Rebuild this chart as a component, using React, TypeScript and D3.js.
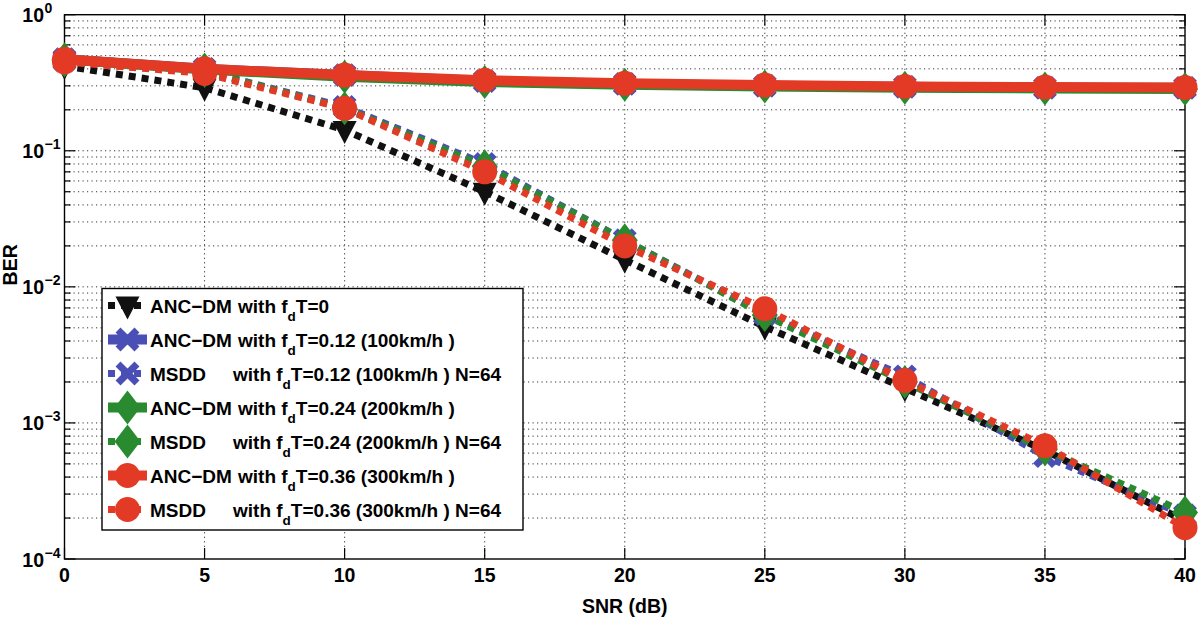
import React from "react";
import * as d3 from "d3";

const snr = [0, 5, 10, 15, 20, 25, 30, 35, 40];
const ancdm0 = [0.42, 0.29, 0.142, 0.05, 0.0158, 0.0051, 0.0018, 0.00063, 0.00019];
const ancdm012 = [0.47, 0.4, 0.36, 0.325, 0.31, 0.3, 0.295, 0.29, 0.29];
const msdd012 = [0.46, 0.385, 0.21, 0.08, 0.022, 0.0063, 0.0022, 0.00057, 0.00021];
const ancdm024 = [0.47, 0.395, 0.35, 0.32, 0.305, 0.297, 0.29, 0.287, 0.285];
const msdd024 = [0.46, 0.385, 0.205, 0.077, 0.022, 0.0062, 0.002, 0.00064, 0.00022];
const ancdm036 = [0.47, 0.4, 0.36, 0.33, 0.313, 0.304, 0.297, 0.294, 0.292];
const msdd036 = [0.45, 0.37, 0.205, 0.07, 0.02, 0.0069, 0.00205, 0.00068, 0.00017];

const xTicks = [0, 5, 10, 15, 20, 25, 30, 35, 40];
const yDecades = [0, -1, -2, -3, -4];

type Marker = "tri" | "x" | "diamond" | "circle";
interface Series {
  name: string;
  label: string;
  values: number[];
  color: string;
  dotted: boolean;
  marker: Marker;
}

const seriesList: Series[] = [
  { name: "ANC\u2212DM", label: "0", values: ancdm0, color: "#111111", dotted: true, marker: "tri" },
  { name: "ANC\u2212DM", label: "0.12 (100km/h )", values: ancdm012, color: "#4a4fb5", dotted: false, marker: "x" },
  { name: "MSDD", label: "0.12 (100km/h ) N=64", values: msdd012, color: "#4a4fb5", dotted: true, marker: "x" },
  { name: "ANC\u2212DM", label: "0.24 (200km/h )", values: ancdm024, color: "#2a8a2f", dotted: false, marker: "diamond" },
  { name: "MSDD", label: "0.24 (200km/h ) N=64", values: msdd024, color: "#2a8a2f", dotted: true, marker: "diamond" },
  { name: "ANC\u2212DM", label: "0.36 (300km/h )", values: ancdm036, color: "#e33a26", dotted: false, marker: "circle" },
  { name: "MSDD", label: "0.36 (300km/h ) N=64", values: msdd036, color: "#e33a26", dotted: true, marker: "circle" },
];

const W = 1200;
const H = 619;
const L = 64.5;
const R = 1185;
const T = 14.7;
const B = 559;

const FONT = "'Liberation Sans', Arial, Helvetica, sans-serif";

function MarkerShape({ type, color, cx, cy }: { type: Marker; color: string; cx: number; cy: number }) {
  if (type === "circle") return <circle cx={cx} cy={cy} r={12.5} fill={color} />;
  if (type === "diamond")
    return <path d={`M${cx},${cy - 17}L${cx + 13},${cy}L${cx},${cy + 17}L${cx - 13},${cy}Z`} fill={color} />;
  if (type === "tri")
    return <path d={`M${cx - 12},${cy - 9}L${cx + 12},${cy - 9}L${cx},${cy + 14}Z`} fill={color} />;
  return (
    <path
      d={`M${cx - 7},${cy - 7}L${cx + 7},${cy + 7}M${cx - 7},${cy + 7}L${cx + 7},${cy - 7}`}
      stroke={color}
      strokeWidth={7}
      fill="none"
      strokeLinecap="square"
    />
  );
}

export default function App() {
  const x = d3.scaleLinear().domain([0, 40]).range([L, R]);
  const y = d3.scaleLog().domain([1e-4, 1]).range([B, T]);
  const line = d3
    .line<number>()
    .x((_, i) => x(snr[i]))
    .y((v) => y(v));

  const minor: number[] = [];
  for (let e = -4; e < 0; e++) for (let k = 2; k <= 9; k++) minor.push(k * Math.pow(10, e));
  const majors = yDecades.map((e) => Math.pow(10, e));

  const grid = { stroke: "#333", strokeWidth: 1, strokeDasharray: "1.2 3.3" };

  const legX = 102;
  const legY = 288.5;
  const legW = 421;
  const legH = 241.5;
  const rowY = (i: number) => 305.5 + i * 34;

  return (
    <svg width={W} height={H} style={{ position: "absolute", left: 0, top: 0, background: "#fff" }} fontFamily={FONT}>
      <rect x={0} y={0} width={W} height={H} fill="#fff" />
      <g>
        {xTicks.slice(1, -1).map((t) => (
          <line key={"gx" + t} x1={x(t)} x2={x(t)} y1={T} y2={B} {...grid} />
        ))}
        {[...minor, ...majors.slice(1, -1)].map((v, i) => (
          <line key={"gy" + i} x1={L} x2={R} y1={y(v)} y2={y(v)} {...grid} />
        ))}
      </g>
      <g stroke="#000" strokeWidth={1.2}>
        {xTicks.map((t) => (
          <g key={"tx" + t}>
            <line x1={x(t)} x2={x(t)} y1={B} y2={B - 11} />
            <line x1={x(t)} x2={x(t)} y1={T} y2={T + 11} />
          </g>
        ))}
        {majors.map((v, i) => (
          <g key={"ty" + i}>
            <line x1={L} x2={L + 11} y1={y(v)} y2={y(v)} />
            <line x1={R} x2={R - 11} y1={y(v)} y2={y(v)} />
          </g>
        ))}
        {minor.map((v, i) => (
          <g key={"tm" + i}>
            <line x1={L} x2={L + 6} y1={y(v)} y2={y(v)} />
            <line x1={R} x2={R - 6} y1={y(v)} y2={y(v)} />
          </g>
        ))}
      </g>
      <rect x={L} y={T} width={R - L} height={B - T} fill="none" stroke="#000" strokeWidth={1.4} />
      {seriesList.map((s, si) => (
        <g key={"s" + si}>
          <path
            d={line(s.values) || ""}
            fill="none"
            stroke={s.color}
            strokeWidth={s.dotted ? 7 : 10}
            strokeDasharray={s.dotted ? "7 6" : undefined}
            strokeLinejoin="round"
          />
          {s.values.map((v, i) => (
            <MarkerShape key={i} type={s.marker} color={s.color} cx={x(snr[i])} cy={y(v)} />
          ))}
        </g>
      ))}
      <g fontWeight="bold" fill="#000">
        {xTicks.map((t) => (
          <text key={"lx" + t} x={x(t)} y={582} fontSize={19.5} textAnchor="middle">
            {t}
          </text>
        ))}
        {yDecades.map((e) => (
          <g key={"ly" + e}>
            <text x={44} y={y(Math.pow(10, e)) + 7.5} fontSize={19.5} textAnchor="end">
              10
            </text>
            <text x={44.5} y={y(Math.pow(10, e)) - 1.5} fontSize={14}>
              {e === 0 ? "0" : "\u2212" + Math.abs(e)}
            </text>
          </g>
        ))}
        <text x={(L + R) / 2} y={613} fontSize={19.5} textAnchor="middle">
          SNR (dB)
        </text>
        <text transform={`translate(17,${(T + B) / 2 - 22}) rotate(-90)`} fontSize={19.5} textAnchor="middle">
          BER
        </text>
      </g>
      <g>
        <rect x={legX} y={legY} width={legW} height={legH} fill="#fff" stroke="#000" strokeWidth={1.4} />
        {seriesList.map((s, i) => {
          const cy = rowY(i);
          const isM = s.name === "MSDD";
          return (
            <g key={"lg" + i}>
              <line
                x1={108}
                x2={147}
                y1={cy}
                y2={cy}
                stroke={s.color}
                strokeWidth={s.dotted ? 7 : 10}
                strokeDasharray={s.dotted ? "7 6" : undefined}
              />
              <MarkerShape type={s.marker} color={s.color} cx={127.5} cy={cy} />
              <text x={150} y={cy + 7} fontSize={19} fontWeight="bold" fill="#000">
                {s.name}
              </text>
              <text x={isM ? 233 : 238} y={cy + 7} fontSize={19} fontWeight="bold" fill="#000">
                {"with f"}
                <tspan fontSize={13.5} dy={8}>
                  d
                </tspan>
                <tspan dy={-8}>{"T=" + s.label}</tspan>
              </text>
            </g>
          );
        })}
      </g>
    </svg>
  );
}
